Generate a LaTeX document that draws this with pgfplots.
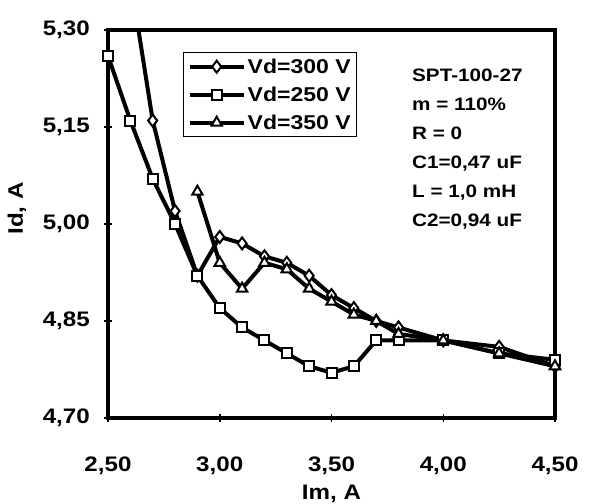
\documentclass[border=0pt]{standalone}
\usepackage{pgfplots}
\pgfplotsset{compat=1.18}
\usepackage{fontspec}
\setmainfont[FakeStretch=1.15]{Liberation Sans}
\begin{document}
\begin{tikzpicture}
\begin{axis}[
  name=ax,
  scale only axis,
  width=447pt, height=388pt,
  xmin=2.5, xmax=4.5, ymin=4.7, ymax=5.3,
  xtick={2.5,3,3.5,4,4.5},
  ytick={4.7,4.85,5.0,5.15,5.3},
  xtick pos=bottom, ytick pos=left,
  tick align=center,
  major tick length=8pt,
  tick style={line width=1.5pt, black},
  axis line style={line width=3.5pt},
  /pgf/number format/use comma,
  /pgf/number format/fixed,
  /pgf/number format/fixed zerofill,
  /pgf/number format/precision=2,
  /pgf/number format/assume math mode=true,
  ticklabel style={font=\fontsize{21}{24}\selectfont\bfseries, inner sep=0pt},
  xticklabel style={anchor=north, yshift=-35pt},
  yticklabel style={anchor=east, xshift=-14pt},
  xlabel={Im, A},
  ylabel={Id, A},
  label style={font=\fontsize{21}{24}\selectfont\bfseries},
  xlabel style={at={(axis description cs:0.5,-0.195)}, anchor=center},
  ylabel style={at={(axis description cs:-0.2036,0.54)}, anchor=center},
  legend image code/.code={\draw[mark repeat=2,mark phase=2] plot coordinates {(0pt,0pt) (27pt,0pt) (54pt,0pt)};},
  legend style={at={(0.168,0.943)}, anchor=north west, draw=black, line width=1.2pt,
    font=\fontsize{20}{22}\selectfont\bfseries, row sep=8pt, inner sep=4pt},
  legend cell align=left,
]
\addplot[black, line width=4pt, mark=diamond*, mark size=6pt, mark options={solid, line width=2pt, fill=white}] coordinates {
(2.60,5.38) (2.70,5.16) (2.80,5.02) (2.90,4.92) (3.00,4.98) (3.10,4.97) (3.20,4.95)
(3.30,4.94) (3.40,4.92) (3.50,4.89) (3.60,4.87) (3.70,4.85) (3.80,4.84) (4.00,4.82)
(4.25,4.81) (4.50,4.78)};
\addlegendentry{Vd=300 V}
\addplot[black, line width=4pt, mark=square*, mark size=5pt, mark options={solid, line width=2pt, fill=white}] coordinates {
(2.50,5.26) (2.60,5.16) (2.70,5.07) (2.80,5.00) (2.90,4.92) (3.00,4.87) (3.10,4.84)
(3.20,4.82) (3.30,4.80) (3.40,4.78) (3.50,4.77) (3.60,4.78) (3.70,4.82) (3.80,4.82)
(4.00,4.82) (4.25,4.80) (4.50,4.79)};
\addlegendentry{Vd=250 V}
\addplot[black, line width=4pt, mark=triangle*, mark size=6pt, mark options={solid, line width=2pt, fill=white}] coordinates {
(2.90,5.05) (3.00,4.94) (3.10,4.90) (3.20,4.94) (3.30,4.93) (3.40,4.90) (3.50,4.88)
(3.60,4.86) (3.70,4.85) (3.80,4.83) (4.00,4.82) (4.25,4.80) (4.50,4.78)};
\addlegendentry{Vd=350 V}
\node[anchor=north west, align=left, inner sep=0pt, font=\fontsize{18}{29}\selectfont\bfseries]
  at (rel axis cs:0.68,0.9) {SPT-100-27\\m = 110\%\\R = 0\\C1=0,47 uF\\L = 1,0 mH\\C2=0,94 uF};
\end{axis}
\pgfresetboundingbox
\path[use as bounding box] ([shift={(-108pt,-86pt)}]ax.south west) rectangle ([shift={(40pt,30pt)}]ax.north east);
\end{tikzpicture}
\end{document}
